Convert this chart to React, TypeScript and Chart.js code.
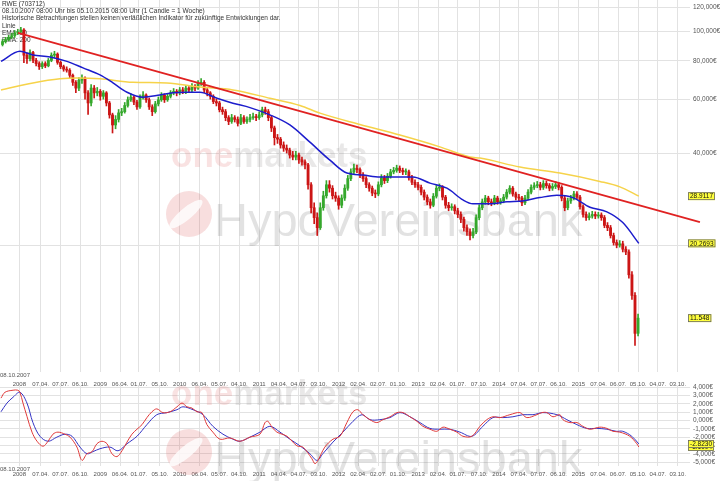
import React, { useEffect, useRef } from 'react';
import { Chart, registerables } from 'chart.js';
Chart.register(...registerables);

const FONT = "'Liberation Sans', Arial, sans-serif";
Chart.defaults.font.family = FONT;

// ---- candle data (one candle = 2 weeks, week index = 2*i+1 since 08.10.2007) ----
const firstOpen = 90.5;
const closes = [92.5,93.9,95.5,96.8,98.7,99.5,101.0,83.5,81.4,85.2,
80.3,78.4,76.6,78.4,77.1,80.3,83.5,84.2,79.1,76.6,
75.2,74.6,71.8,68.1,65.2,69.2,70.3,62.9,58.3,65.2,
62.9,63.6,61.3,62.9,58.3,53.3,49.4,51.5,54.1,54.6,
57.2,59.7,60.9,58.7,56.6,60.9,61.9,59.7,56.6,54.6,
57.9,59.7,61.9,59.7,61.3,62.9,63.6,62.9,64.3,63.6,
65.2,64.3,66.1,65.2,67.6,68.1,64.3,62.9,61.3,58.9,
58.3,55.4,54.6,52.2,50.7,52.2,51.5,50.0,52.2,50.7,
51.5,52.2,52.6,52.2,53.3,55.4,54.6,52.2,48.3,44.9,
44.4,42.5,41.5,40.9,39.4,38.8,39.4,38.0,37.4,36.6,
31.5,26.5,24.6,22.8,26.5,29.0,31.5,30.7,29.0,28.5,
27.0,28.5,30.7,33.0,34.7,35.7,35.3,33.9,33.0,31.5,
30.7,29.6,29.4,31.5,33.2,32.5,33.6,34.7,35.1,35.7,
35.1,34.7,34.7,33.2,32.1,31.5,30.9,29.8,28.7,27.7,
27.0,28.9,30.7,30.9,28.7,27.0,26.5,26.7,25.9,25.2,
24.3,22.8,22.1,21.5,22.1,24.6,26.5,27.7,28.5,27.7,
27.5,28.5,27.7,27.9,28.7,29.8,30.7,29.4,28.7,28.5,
27.5,28.5,29.8,30.9,31.3,31.5,30.9,31.8,31.3,30.7,
31.1,31.5,30.9,28.5,26.5,27.9,28.5,29.4,28.7,26.7,
25.2,24.6,24.9,25.2,24.9,25.1,24.6,23.2,22.8,21.5,
20.4,20.0,20.2,19.4,19.0,16.0,13.7,10.3,11.548];

const highs = [94,95.5,97,98.5,100.5,101.5,103,102,85,87,
86,81.5,79.5,79.5,79.5,81.5,85,86,85,80,
77.5,76.5,75.5,72.5,69,70.5,72,71,64,67,
66.5,65.5,64.5,64,63.5,59,54,53,55.5,56,
58.5,61,62.5,61.5,59.5,62,63.5,62.5,60.5,57.5,
59,61,63,62.5,62.5,64,65,64.5,65.5,65.5,
66.5,66,67.5,67,69,70,69,65,63.5,62,
60,59,56.5,55.5,53,53.5,53,52.5,53.5,53,
52.5,53.5,54,53.5,54.5,56.5,56.5,55.5,53,49,
46,45,43.5,42.5,41.5,40.5,40.5,40,38.8,38,
37,32,27.5,25.5,27.5,30,32.5,32.5,31.3,29.8,
29,29.2,31.5,33.8,35.5,36.8,36.5,35.8,34.5,33.5,
32,31.2,30.3,32.2,34,33.8,34.3,35.4,35.9,36.5,
36.3,35.7,35.5,35.2,33.8,32.7,32.1,31.4,30.3,29.2,
28.3,29.5,31.4,31.7,31.3,29.1,27.6,27.3,27.1,26.4,
25.7,24.7,23.3,22.6,22.7,25.1,27.1,28.3,29.1,28.9,
28.3,29.1,28.9,28.4,29.3,30.4,31.3,31.1,29.8,29.3,
28.9,29.1,30.4,31.5,32,32.3,32.1,32.5,32.4,31.8,
31.8,32.3,32.1,31.3,28.9,28.5,29.1,30,29.9,29.1,
27.1,25.7,25.5,25.8,25.7,25.6,25.5,25,23.7,23.2,
21.9,20.8,20.7,20.6,19.8,19.3,16.4,14,11.9];

const lows = [89.5,91.5,93,94.5,95.5,97.5,98.5,79,78.5,80,
79,77,75,75.5,76,76.5,79.5,82,78,75.5,
74,73.5,70.5,66.5,63,64,67.5,60,53.5,57,
60.5,61.5,59.5,60,57,52,46.5,48,50.5,53,
54,56.5,59,57.5,55.5,56,60,58.5,55.5,53,
54,57,59,58.5,59,60.5,62,61.5,62,62.5,
62.5,63,63.5,64,64.5,66.5,63,61.5,60,58,
57,54.5,53.5,51,49.5,50,50.5,49,49.5,50,
50,50.5,51.5,51,51.5,52.5,53.5,51,47,42.5,
43,41.5,40.5,40,38.5,38,38,37,36.5,35.5,
30.5,25.5,23.5,21.5,22.5,26,28.5,29.8,28.3,27.8,
26.2,26.5,28,30.2,32.5,34,34.5,33.2,32.3,30.8,
30,29,28.6,29,31,31.8,32,33.1,34.2,34.6,
34.5,34,34,32.6,31.5,30.9,30.3,29.2,28.1,27.1,
26.4,26.7,28.5,30.1,28.1,26.4,25.9,26,25.3,24.6,
23.7,22.2,21.5,20.8,21.1,21.8,24.2,26.1,27.2,27.1,
26.9,27.1,27.2,27.2,27.5,28.3,29.4,28.9,28.1,27.9,
26.9,27.1,28.1,29.4,30.4,30.8,30.3,30.4,30.7,30.1,
30.2,30.6,30.3,27.9,25.9,26.1,27.4,28.1,28.2,26.2,
24.7,24.1,24.2,24.5,24.4,24.5,24.1,22.8,22.3,21.1,
20,19.6,19.7,19,18.6,15.6,13.3,9.4,10.1];

// ---- indicator lines (week, value) ----
const ema50W = [0,12.4,20.9,32.1,43.2,53.7,64.8,73.3,82.5,92.9,104,112.6,121.7,130.2,141.4,151.8,163,176,189.1,202.2,215.3,226.4,236.9,248,259.2,269.6,280.8,291.9,302.4,308.9,320,331.2,341.6,352.7,363.9,374.3,385.5,396.6,407,417.5];
const ema50V = [79.7,86.0,83.7,82.4,79.7,75.9,72.0,67.8,63.2,60.9,61.9,62.9,63.2,63.2,60.4,58.2,56.3,53.3,49.4,43.4,37.9,34.4,33.9,33.4,33.4,33.4,31.9,30.7,28.1,27.3,27.3,27.7,27.9,28.6,29.1,28.6,26.6,25.7,23.7,20.2693];
const ema200W = [0,20.9,38.6,49.7,64.8,86.4,108.6,130.2,151.8,176,195.7,208.8,234.9,261.1,287.3,306.9,313.5,339.7,365.8,392,405.1,417.5];
const ema200V = [64.3,67.8,69.9,70.3,69.9,68.1,67.8,65.7,64.3,60.4,57.2,54.0,49.6,45.8,41.9,38.8,38.5,36.0,34.4,32.3,31.0,28.9117];
const trendW = [11.1, 457.5];
const trendV = [98.7, 23.8];

const macdW = [0,2.6,7.9,11,12.4,14.4,17,20.3,23.6,27.5,30.8,34,37.3,41.9,45.2,49.7,53,56.3,59.6,62.8,66.1,69.4,72.6,75.9,79.2,82.5,85.7,89,92.3,95.5,98.8,102,106,110.6,115.2,118.5,121.7,125,128.3,131.5,134.8,138.7,143.3,149.9,156.4,163,169.5,172.8,174.7,177.4,180.6,187.2,193.7,197.6,203.5,205.5,207.5,212,217.3,221.9,226.4,230.4,233.6,236.9,241.5,246,250,254.6,259.2,263.1,267.7,272.3,276.2,280.8,285.3,289.3,293.8,298.4,302.4,308.2,313.5,318,322,326.6,333.1,339.7,344.2,350.8,354,357.3,361.3,365.8,367.8,372.4,377,380.9,385.5,392,396.6,400.5,405.1,411.6,416.2,417.5];
const macdV = [2.7,3.4,3.65,3.65,3.4,2.1,0.5,-1.4,-2.5,-3.1,-2.5,-1.65,-1.4,-1.65,-2.0,-3.2,-4.8,-4.0,-3.75,-2.8,-2.5,-2.8,-4.0,-4.35,-3.65,-2.6,-1.65,-1.05,-0.5,0.35,1.05,1.4,0.95,1.05,1.65,2.1,1.65,1.5,1.05,0.95,-0.5,-1.4,-2.25,-2.1,-2.5,-2.0,-1.65,-0.25,-0.1,-0.8,-1.4,-1.9,-3.05,-3.2,-4.6,-5.2,-4.8,-3.2,-2.25,-1.9,-0.25,1.05,1.3,0.7,0.1,-0.25,0.1,0.45,0.95,0.95,0.45,-0.1,-0.7,-1.05,-1.3,-0.8,-1.05,-1.4,-1.9,-1.9,-0.7,0.1,0.45,0.35,0.7,0.95,0.35,0.7,0.95,0.95,0.45,0.7,0.1,-0.25,-0.25,-0.7,-1.05,-0.8,-0.95,-1.3,-1.4,-1.9,-2.8,-3.19];
const sigW = [0,3.9,7.9,12.4,17,20.9,25.5,30.8,36.6,41.9,46.5,51.7,56.3,60.2,64.8,71.3,76.6,82.5,89,95.5,102,108.6,115.2,119.1,125.7,132.2,138.7,145.3,151.8,156.4,163,169.5,176,182.6,189.1,195.7,202.2,206.8,210.7,217.3,223.8,230.4,236.3,241.5,248,254.6,261.1,267.7,274.2,280.8,287.3,293.8,300.4,308.2,315.4,322,328.5,335.1,341.6,348.2,354.7,363.9,370.4,377,383.5,390,396.6,402.7,407,412.9,417.5];
const sigV = [1.05,2.1,2.8,3.4,2.1,-0.25,-1.9,-2.5,-2.0,-1.65,-1.9,-3.2,-4.0,-3.75,-3.4,-3.2,-3.65,-2.8,-1.9,-0.5,0.7,0.95,1.3,1.65,1.3,0.7,-0.7,-1.65,-2.25,-2.5,-2.0,-1.4,-0.7,-1.4,-2.25,-3.05,-4.0,-4.8,-4.0,-2.6,-1.4,-0.1,0.7,0.1,0.1,0.35,0.95,0.45,-0.25,-0.95,-1.05,-1.05,-1.4,-1.9,-0.7,0.35,0.35,0.45,0.7,0.7,0.95,0.7,0.1,-0.5,-0.95,-0.95,-1.05,-1.3,-1.3,-1.9,-2.823];

// ---- axis ticks ----
const xTickWeeks = [12,26,39,52,65,78,90.3,104,117,130.1,143,156,169,182,195,208,221,234,247,260,273,286.1,299,313,326,339,352,365,378,391.1,404,417,430,443];
const xTickLabels = ['2008','07.04.','07.07.','06.10.','2009','06.04.','01.07.','05.10.','2010','06.04.','05.07.','04.10.','2011','04.04.','04.07.','03.10.','2012','02.04.','02.07.','01.10.','2013','02.04.','01.07.','07.10.','2014','07.04.','07.07.','06.10.','2015','07.04.','06.07.','05.10.','04.07.','03.10.'];
const priceTicks = [20,40,60,80,100,120];
const macdTicks = [-5,-4,-3,-2,-1,0,1,2,3,4];
const startLabel = '08.10.2007';
const headerLines = ['RWE (703712)','08.10.2007 08:00 Uhr bis 05.10.2015 08:00 Uhr (1 Candle = 1 Woche)','Historische Betrachtungen stellen keinen verläßlichen Indikator für zukünftige Entwicklungen dar.','Linie','EMA: 50','EMA: 200'];
const priceBoxes = [{ v: 28.9117, t: '28.9117' }, { v: 20.2693, t: '20.2693' }, { v: 11.548, t: '11.548' }];
const macdBoxes = [{ v: -3.19, t: '-3.1904' }, { v: -2.823, t: '-2.8230' }];

const X_MIN = -0.65, X_MAX = 451;
const GRID = '#e2e2e2';
const UP = '#35a82c', DOWN = '#cc1515';

const fmtEuro = (v: number) => v.toFixed(3).replace('.', ',') + '€';
const pts = (w: number[], v: number[]) => w.map((x, i) => ({ x, y: v[i] }));

function drawWatermark(ctx: CanvasRenderingContext2D, dy: number) {
  ctx.save();
  ctx.textBaseline = 'alphabetic';
  ctx.textAlign = 'left';
  ctx.font = `bold 35px ${FONT}`;
  ctx.fillStyle = 'rgba(225,110,110,0.2)';
  ctx.fillText('one', 171, 167 + dy);
  const w1 = ctx.measureText('one').width;
  ctx.fillStyle = 'rgba(120,110,110,0.16)';
  ctx.fillText('markets', 171 + w1, 167 + dy);
  // logo
  ctx.beginPath();
  ctx.arc(189, 214 + dy, 23, 0, Math.PI * 2);
  ctx.fillStyle = 'rgba(220,90,90,0.2)';
  ctx.fill();
  ctx.beginPath();
  ctx.ellipse(186, 214 + dy, 21, 6, -0.7, 0, Math.PI * 2);
  ctx.fillStyle = 'rgba(255,255,255,0.8)';
  ctx.fill();
  ctx.font = `47px ${FONT}`;
  ctx.fillStyle = 'rgba(110,110,110,0.2)';
  ctx.fillText('HypoVereinsbank', 214, 236 + dy);
  ctx.restore();
}

function drawBox(ctx: CanvasRenderingContext2D, y: number, t: string) {
  ctx.font = `6.5px ${FONT}`;
  const w = ctx.measureText(t).width + 4;
  ctx.fillStyle = '#ffff3c';
  ctx.fillRect(688, y - 4, w, 8);
  ctx.strokeStyle = '#666';
  ctx.lineWidth = 0.8;
  ctx.strokeRect(688.5, y - 3.5, w - 1, 7);
  ctx.fillStyle = '#111';
  ctx.textBaseline = 'middle';
  ctx.textAlign = 'left';
  ctx.fillText(t, 690, y + 0.5);
}

export default function App() {
  const mainRef = useRef<HTMLCanvasElement>(null);
  const macdRef = useRef<HTMLCanvasElement>(null);

  useEffect(() => {
    const opens = closes.map((c, i) => (i === 0 ? firstOpen : closes[i - 1]));
    const colors = closes.map((c, i) => (c >= opens[i] ? UP : DOWN));
    const weekOf = (i: number) => 2 * i + 1;

    const mainPlugin = {
      id: 'mainDecor',
      beforeDatasetsDraw(chart: any) {
        const ctx = chart.ctx as CanvasRenderingContext2D;
        drawWatermark(ctx, 0);
        ctx.save();
        ctx.font = `6.5px ${FONT}`;
        ctx.fillStyle = '#333';
        ctx.textBaseline = 'middle';
        ctx.textAlign = 'left';
        const ys = [4.5, 11.5, 18.5, 26, 33, 40];
        headerLines.forEach((t, i) => ctx.fillText(t, 2, ys[i]));
        ctx.restore();
      },
      afterDraw(chart: any) {
        const ctx = chart.ctx as CanvasRenderingContext2D;
        ctx.save();
        priceBoxes.forEach(b => drawBox(ctx, chart.scales.y.getPixelForValue(b.v), b.t));
        ctx.restore();
      },
    };

    const main = new Chart(mainRef.current!, {
      type: 'bar',
      data: {
        datasets: [
          {
            type: 'line', label: 'trend', data: pts(trendW, trendV), borderColor: '#e02222', borderWidth: 1.8,
            pointRadius: 0, clip: false as any, order: 1,
          },
          {
            type: 'line', label: 'EMA 50', data: pts(ema50W, ema50V), borderColor: '#1c1ccc', borderWidth: 1.5,
            pointRadius: 0, cubicInterpolationMode: 'monotone', order: 2,
          },
          {
            type: 'line', label: 'EMA 200', data: pts(ema200W, ema200V), borderColor: '#f6d34a', borderWidth: 1.5,
            pointRadius: 0, cubicInterpolationMode: 'monotone', order: 3,
          },
          {
            type: 'bar', label: 'wick', data: closes.map((c, i) => ({ x: weekOf(i), y: [lows[i], highs[i]] })) as any,
            backgroundColor: colors, barThickness: 1, grouped: false, order: 5,
          },
          {
            type: 'bar', label: 'body',
            data: closes.map((c, i) => ({ x: weekOf(i), y: [Math.min(opens[i], c), Math.max(opens[i], c)] })) as any,
            backgroundColor: colors, barThickness: 2.2, grouped: false, minBarLength: 1, order: 4,
          },
        ] as any,
      },
      options: {
        animation: false,
        responsive: false,
        devicePixelRatio: 1,
        layout: { padding: 0 },
        plugins: { legend: { display: false }, tooltip: { enabled: false } },
        scales: {
          x: {
            type: 'linear', position: 'bottom', min: X_MIN, max: X_MAX, offset: false,
            grid: { color: GRID, drawTicks: false, offset: false },
            border: { display: false },
            ticks: { display: false },
            afterBuildTicks: (s: any) => { s.ticks = xTickWeeks.map(v => ({ value: v })); },
            afterFit: (s: any) => { s.height = 0; s.paddingLeft = 0; s.paddingRight = 0; },
          },
          y: {
            type: 'logarithmic', position: 'right', min: 7.7, max: 126.5,
            grid: { color: GRID, drawTicks: false },
            border: { display: false },
            ticks: {
              color: '#555', font: { size: 6.5, family: FONT }, padding: 3, autoSkip: false,
              callback: (v: any) => (Number(v) === 20 ? '' : fmtEuro(Number(v))),
            },
            afterBuildTicks: (s: any) => { s.ticks = priceTicks.map(v => ({ value: v })); },
            afterFit: (s: any) => { s.width = 30; s.paddingTop = 0; s.paddingBottom = 0; },
          },
        },
      } as any,
      plugins: [mainPlugin as any],
    });

    const macdPlugin = {
      id: 'macdDecor',
      beforeDatasetsDraw(chart: any) {
        const ctx = chart.ctx as CanvasRenderingContext2D;
        drawWatermark(ctx, -134);
        ctx.save();
        ctx.font = `6px ${FONT}`;
        ctx.fillStyle = '#555';
        ctx.textBaseline = 'middle';
        ctx.textAlign = 'left';
        ctx.fillText(startLabel, 0, 3.5);
        ctx.fillText(startLabel, 0, 97);
        ctx.restore();
      },
      afterDraw(chart: any) {
        const ctx = chart.ctx as CanvasRenderingContext2D;
        ctx.save();
        macdBoxes.forEach(b => drawBox(ctx, chart.scales.y.getPixelForValue(b.v), b.t));
        ctx.restore();
      },
    };

    const xTickOpts = (pad: number) => ({
      color: '#555', font: { size: 6, family: FONT }, padding: pad, autoSkip: false, maxRotation: 0, minRotation: 0,
      callback: (_v: any, i: number) => xTickLabels[i] ?? '',
    });

    const macd = new Chart(macdRef.current!, {
      type: 'line',
      data: {
        datasets: [
          { label: 'MACD', data: pts(macdW, macdV), borderColor: '#e03a3a', borderWidth: 1, pointRadius: 0, tension: 0.35 },
          { label: 'Signal', data: pts(sigW, sigV), borderColor: '#3434c4', borderWidth: 1, pointRadius: 0, tension: 0.35 },
        ],
      },
      options: {
        animation: false,
        responsive: false,
        devicePixelRatio: 1,
        layout: { padding: 0 },
        plugins: { legend: { display: false }, tooltip: { enabled: false } },
        scales: {
          x: {
            type: 'linear', position: 'bottom', min: X_MIN, max: X_MAX,
            grid: { color: GRID, drawTicks: false },
            border: { display: false },
            ticks: xTickOpts(4.4),
            afterBuildTicks: (s: any) => { s.ticks = xTickWeeks.map(v => ({ value: v })); },
            afterFit: (s: any) => { s.height = 15; s.paddingLeft = 0; s.paddingRight = 0; },
          },
          x2: {
            type: 'linear', position: 'top', min: X_MIN, max: X_MAX,
            grid: { display: false, drawTicks: false },
            border: { display: false },
            ticks: xTickOpts(-1.6),
            afterBuildTicks: (s: any) => { s.ticks = xTickWeeks.map(v => ({ value: v })); },
            afterFit: (s: any) => { s.height = 14; s.paddingLeft = 0; s.paddingRight = 0; },
          },
          y: {
            type: 'linear', position: 'right', min: -5.48, max: 4.157,
            grid: { color: GRID, drawTicks: false },
            border: { display: false },
            ticks: {
              color: '#555', font: { size: 6.5, family: FONT }, padding: 3, autoSkip: false,
              callback: (v: any) => fmtEuro(Number(v)),
            },
            afterBuildTicks: (s: any) => { s.ticks = macdTicks.map(v => ({ value: v })); },
            afterFit: (s: any) => { s.width = 30; s.paddingTop = 0; s.paddingBottom = 0; },
          },
        },
      } as any,
      plugins: [macdPlugin as any],
    });

    return () => { main.destroy(); macd.destroy(); };
  }, []);

  return (
    <div style={{ position: 'absolute', left: 0, top: 0, width: 720, height: 481, background: '#fff', overflow: 'hidden' }}>
      <canvas ref={mainRef} width={720} height={372} style={{ position: 'absolute', left: 0, top: 0, width: 720, height: 372 }} />
      <canvas ref={macdRef} width={720} height={109} style={{ position: 'absolute', left: 0, top: 372, width: 720, height: 109 }} />
    </div>
  );
}
